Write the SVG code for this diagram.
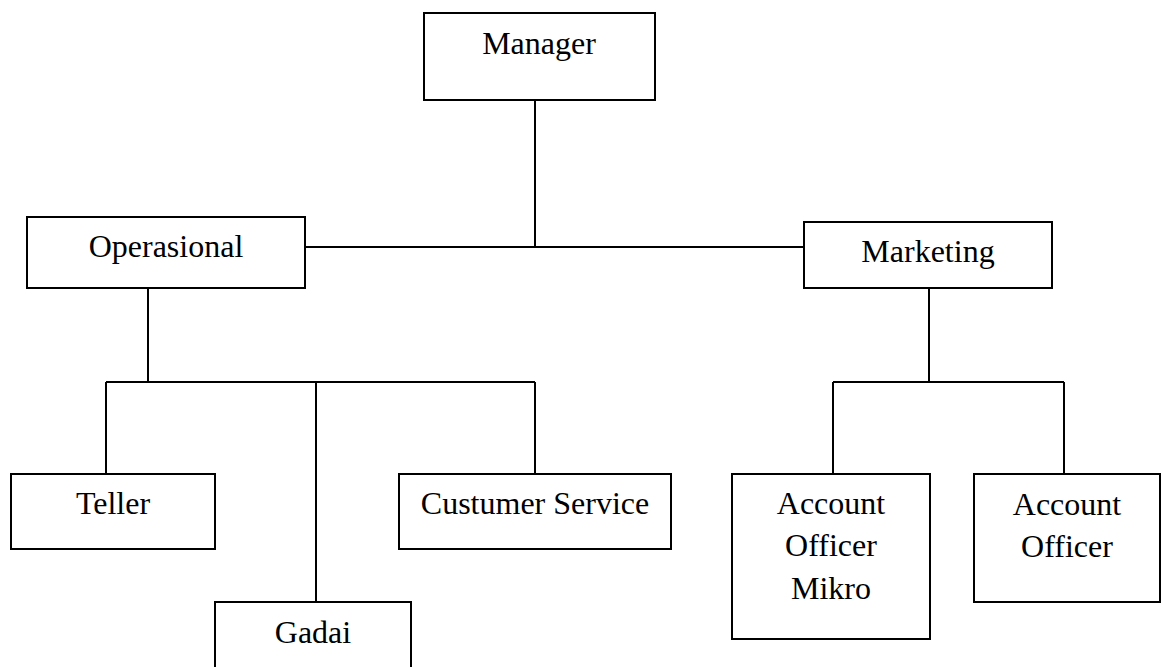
<svg xmlns="http://www.w3.org/2000/svg" width="1163" height="667" viewBox="0 0 1163 667">
<style>
.box{fill:#fff;stroke:#000;stroke-width:2}
.ln{fill:none;stroke:#000;stroke-width:2}
text{font-family:"Liberation Serif","Times New Roman",serif;font-size:32px;fill:#000;text-anchor:middle}
</style>
<rect width="1163" height="667" fill="#fff"/>
<g id="connectors">
<path class="ln" d="M535 100V247M305 247H804"/>
<path class="ln" d="M148 288V382M106 382H535M106 382V474M316 382V602M535 382V474"/>
<path class="ln" d="M929 288V382M833 382H1064M833 382V474M1064 382V474"/>
</g>
<g id="manager"><rect class="box" x="424" y="13" width="231" height="87"/><text x="539" y="54">Manager</text></g>
<g id="operasional"><rect class="box" x="27" y="217" width="278" height="71"/><text x="166" y="257">Operasional</text></g>
<g id="marketing"><rect class="box" x="804" y="222" width="248" height="66"/><text x="928" y="262">Marketing</text></g>
<g id="teller"><rect class="box" x="11" y="474" width="204" height="75"/><text x="113" y="514">Teller</text></g>
<g id="gadai"><rect class="box" x="215" y="602" width="196" height="80"/><text x="313" y="643">Gadai</text></g>
<g id="customer-service"><rect class="box" x="399" y="474" width="272" height="75"/><text x="535" y="514">Custumer Service</text></g>
<g id="ao-mikro"><rect class="box" x="732" y="474" width="198" height="165"/><text x="831" y="514">Account</text><text x="831" y="556">Officer</text><text x="831" y="599">Mikro</text></g>
<g id="ao"><rect class="box" x="974" y="474" width="186" height="128"/><text x="1067" y="515">Account</text><text x="1067" y="557">Officer</text></g>
</svg>
